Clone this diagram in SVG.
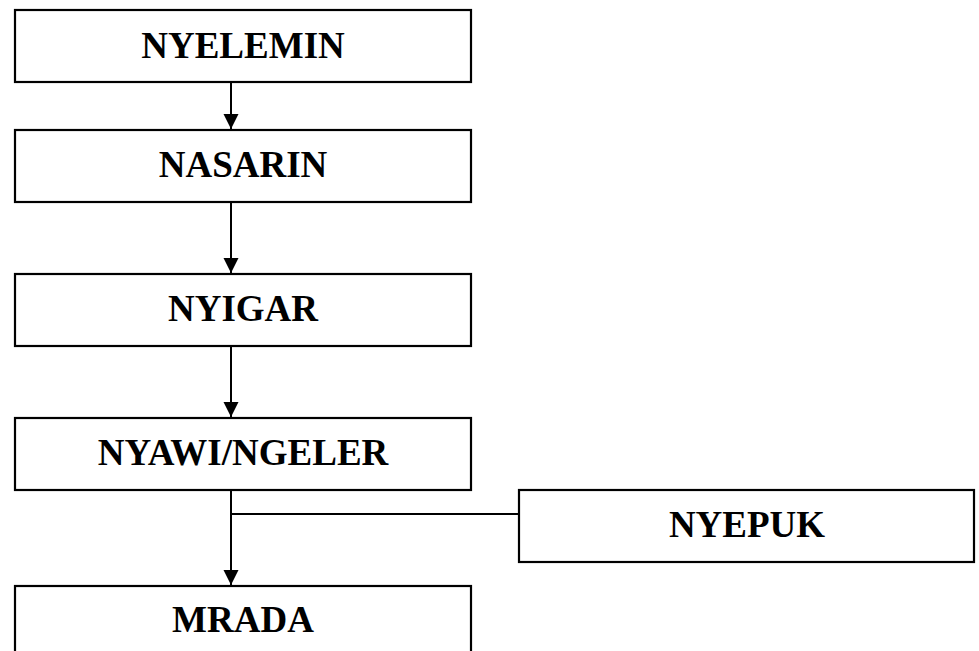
<svg xmlns="http://www.w3.org/2000/svg" width="979" height="651" viewBox="0 0 979 651">
<defs>
<style>
.box{fill:#fff;stroke:#000;stroke-width:2.2}
.lbl{font-family:"Liberation Serif","Times New Roman",serif;font-weight:bold;font-size:37px;text-anchor:middle;fill:#000}
.con{stroke:#000;stroke-width:2;fill:none}
</style>
<marker id="ah" markerUnits="userSpaceOnUse" markerWidth="16" markerHeight="16" viewBox="0 0 16 16" refX="15" refY="8" orient="auto">
<path d="M0,0.5 L15,8 L0,15.5 Z" fill="#000"/>
</marker>
</defs>
<rect width="979" height="651" fill="#fff"/>
<g id="connectors">
<line class="con" x1="231" y1="82" x2="231" y2="129" marker-end="url(#ah)"/>
<line class="con" x1="231" y1="202" x2="231" y2="273" marker-end="url(#ah)"/>
<line class="con" x1="231" y1="346" x2="231" y2="417" marker-end="url(#ah)"/>
<line class="con" x1="231" y1="490" x2="231" y2="585" marker-end="url(#ah)"/>
<line class="con" x1="231" y1="514" x2="519" y2="514"/>
</g>
<g id="n1"><rect class="box" x="15" y="10" width="456" height="72"/><text class="lbl" x="243" y="58">NYELEMIN</text></g>
<g id="n2"><rect class="box" x="15" y="130" width="456" height="72"/><text class="lbl" x="243" y="177">NASARIN</text></g>
<g id="n3"><rect class="box" x="15" y="274" width="456" height="72"/><text class="lbl" x="243" y="321">NYIGAR</text></g>
<g id="n4"><rect class="box" x="15" y="418" width="456" height="72"/><text class="lbl" x="243" y="465">NYAWI/NGELER</text></g>
<g id="n5"><rect class="box" x="519" y="490" width="455" height="72"/><text class="lbl" x="747" y="537">NYEPUK</text></g>
<g id="n6"><rect class="box" x="15" y="586" width="456" height="72"/><text class="lbl" x="243" y="632">MRADA</text></g>
</svg>
